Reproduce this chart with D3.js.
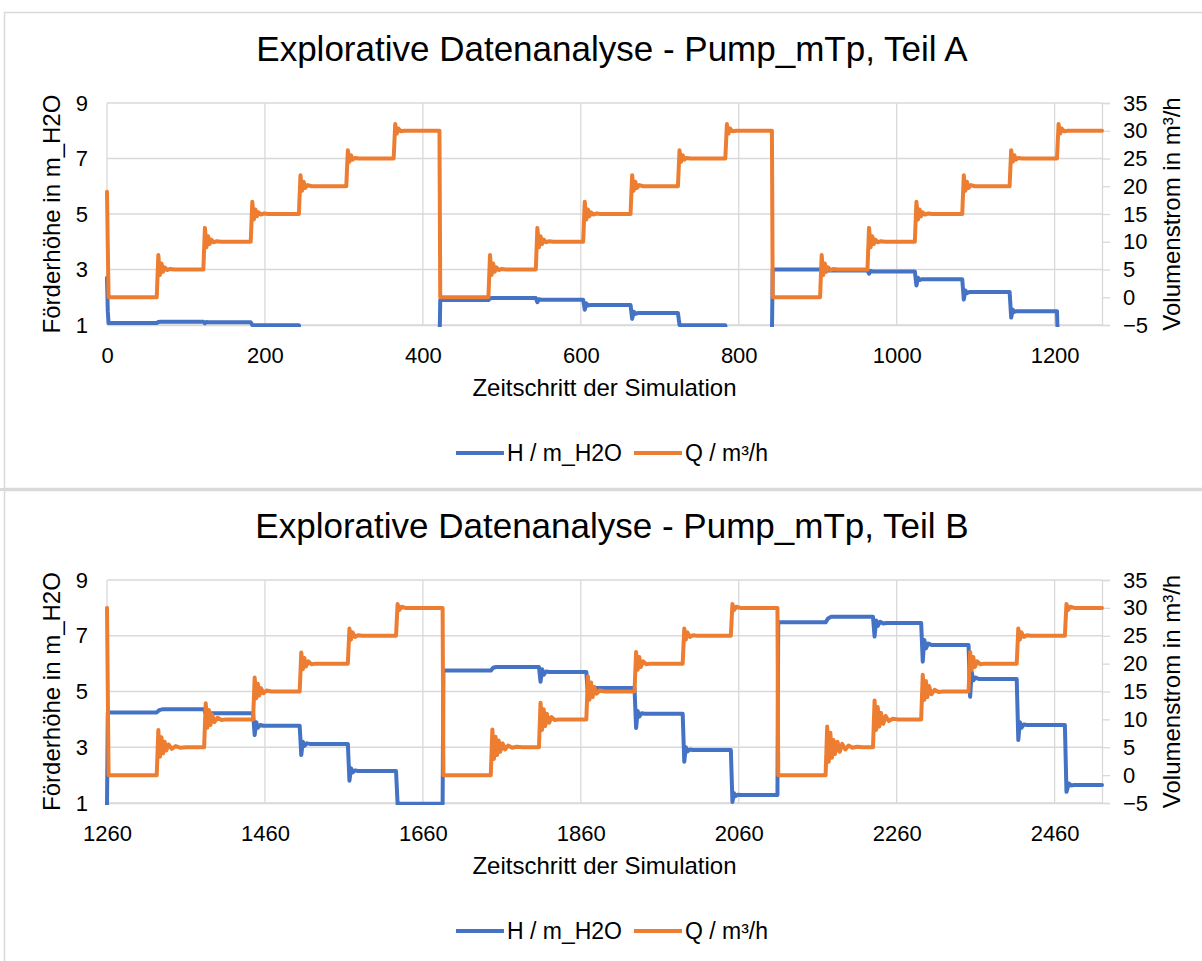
<!DOCTYPE html>
<meta charset="utf-8">
<script src="https://d3js.org/d3.v7.min.js"></script>
<style>
  body { margin: 0; background: #fff; }
  text { font-family: "Liberation Sans", Arial, sans-serif; }
</style>
<div id="chart"></div>
<script>

// titles and labels
const titles = ["Explorative Datenanalyse - Pump_mTp, Teil A", "Explorative Datenanalyse - Pump_mTp, Teil B"];
const xTitle = "Zeitschritt der Simulation";
const yLeftTitle = "Förderhöhe in m_H2O";
const yRightTitle = "Volumenstrom in m³/h";
const seriesNames = ["H / m_H2O", "Q / m³/h"];

// axis ticks
const xTicksA = [0, 200, 400, 600, 800, 1000, 1200];
const xTicksB = [1260, 1460, 1660, 1860, 2060, 2260, 2460];
const yLeftTicks = [1, 3, 5, 7, 9];
const yRightTicks = [-5, 0, 5, 10, 15, 20, 25, 30, 35];

// Teil A: [time step, value]
const hA = [
  [0,2.7],[1,1.5],[2,1.07],
  [63,1.07],[65,1.11],[68,1.12],
  [122,1.12],[124,1.06],[126,1.11],[129,1.1],
  [182,1.1],[184,1.0],[187,0.99],
  [243,0.99],[244,0.7],
  [303,0.7],[304,0.45],
  [363,0.45],[364,0.2],
  [421,0.2],[422,1.9],
  [483,1.9],[485,1.96],[488,1.97],
  [543,1.97],[545,1.82],[547,1.93],[550,1.91],
  [603,1.91],[605,1.55],[607,1.78],[609,1.7],[612,1.72],
  [663,1.72],[665,1.22],[667,1.48],[669,1.4],[672,1.43],
  [723,1.43],[725,1.0],[728,0.99],
  [783,0.99],[784,0.6],
  [842,0.6],[843,3.0],
  [903,3.0],[905,2.95],[908,2.96],
  [963,2.96],[965,2.85],[967,2.95],[970,2.93],
  [1023,2.93],[1025,2.42],[1027,2.7],[1029,2.62],[1032,2.65],
  [1083,2.65],[1085,1.92],[1087,2.24],[1089,2.15],[1092,2.19],
  [1143,2.19],[1145,1.27],[1147,1.55],[1149,1.47],[1152,1.5],
  [1203,1.5],[1204,0.5],
  [1260,0.5]
];
const qA = [
  [0,19],[1,9],[2,0],
  [63,0],[65,7.6],[67,4.0],[69,6.1],[71,4.6],[73,5.4],[76,4.9],[80,5.1],[85,5],
  [122,5],[124,12.5],[126,9.0],[128,11.0],[130,9.6],[132,10.4],[135,9.9],[139,10.1],[144,10],
  [182,10],[184,17.2],[186,14.0],[188,15.8],[190,14.6],[192,15.3],[195,14.9],[199,15.1],[204,15],
  [243,15],[245,22.0],[247,19.2],[249,20.8],[251,19.7],[254,20.2],[259,20],
  [303,20],[305,26.5],[307,24.4],[309,25.6],[311,24.8],[314,25.1],[319,25],
  [363,25],[365,31.2],[367,29.5],[369,30.4],[372,29.9],[377,30],
  [421,30],[422,0],
  [483,0],[485,7.6],[487,4.0],[489,6.1],[491,4.6],[493,5.4],[496,4.9],[500,5.1],[505,5],
  [543,5],[545,12.5],[547,9.0],[549,11.0],[551,9.6],[553,10.4],[556,9.9],[560,10.1],[565,10],
  [603,10],[605,17.2],[607,14.0],[609,15.8],[611,14.6],[613,15.3],[616,14.9],[620,15.1],[625,15],
  [663,15],[665,22.0],[667,19.2],[669,20.8],[671,19.7],[674,20.2],[679,20],
  [723,20],[725,26.5],[727,24.4],[729,25.6],[731,24.8],[734,25.1],[739,25],
  [783,25],[785,31.2],[787,29.5],[789,30.4],[792,29.9],[797,30],
  [842,30],[843,0],
  [903,0],[905,7.6],[907,4.0],[909,6.1],[911,4.6],[913,5.4],[916,4.9],[920,5.1],[925,5],
  [963,5],[965,12.5],[967,9.0],[969,11.0],[971,9.6],[973,10.4],[976,9.9],[980,10.1],[985,10],
  [1023,10],[1025,17.2],[1027,14.0],[1029,15.8],[1031,14.6],[1033,15.3],[1036,14.9],[1040,15.1],[1045,15],
  [1083,15],[1085,22.0],[1087,19.2],[1089,20.8],[1091,19.7],[1094,20.2],[1099,20],
  [1143,20],[1145,26.5],[1147,24.4],[1149,25.6],[1151,24.8],[1154,25.1],[1159,25],
  [1203,25],[1205,31.2],[1207,29.5],[1209,30.4],[1212,29.9],[1217,30],
  [1260,30]
];

// Teil B: [time step, value]
const hB = [
  [1260,0.9],[1261,4.25],
  [1323,4.25],[1326,4.33],[1330,4.36],
  [1383,4.36],[1385,4.2],[1387,4.26],[1390,4.22],
  [1445,4.22],[1447,3.44],[1449,3.9],[1451,3.7],[1454,3.8],[1458,3.77],
  [1504,3.77],[1506,2.72],[1508,3.2],[1510,3.05],[1513,3.14],[1517,3.12],
  [1565,3.12],[1567,1.8],[1569,2.25],[1571,2.1],[1574,2.17],[1578,2.15],
  [1626,2.15],[1628,0.96],[1631,0.97],
  [1685,0.97],[1686,5.75],
  [1746,5.75],[1749,5.85],[1753,5.88],
  [1807,5.88],[1809,5.35],[1811,5.8],[1813,5.6],[1816,5.72],[1820,5.7],
  [1867,5.7],[1869,4.9],[1871,5.25],[1873,5.05],[1876,5.15],[1880,5.13],
  [1928,5.13],[1930,3.69],[1932,4.3],[1934,4.1],[1937,4.22],[1941,4.2],
  [1989,4.2],[1991,2.48],[1993,3.0],[1995,2.85],[1998,2.92],[2002,2.9],
  [2050,2.9],[2052,1.04],[2054,1.35],[2056,1.25],[2059,1.3],[2063,1.29],
  [2109,1.29],[2110,7.48],
  [2170,7.48],[2173,7.62],[2177,7.68],
  [2230,7.68],[2232,6.97],[2234,7.55],[2236,7.35],[2239,7.5],[2243,7.44],[2247,7.46],
  [2291,7.46],[2293,6.07],[2295,6.85],[2297,6.55],[2300,6.72],[2304,6.67],
  [2351,6.67],[2353,4.81],[2355,5.7],[2357,5.4],[2360,5.5],[2364,5.45],
  [2412,5.45],[2414,3.26],[2416,3.9],[2418,3.7],[2421,3.82],[2425,3.8],
  [2473,3.8],[2475,1.4],[2478,1.7],[2481,1.63],[2485,1.65],
  [2520,1.65]
];
const qB = [
  [1260,30],[1261,15],[1262,0],
  [1323,0],[1325,8.1],[1327,3.3],[1329,6.8],[1331,3.9],[1333,6.0],[1335,4.4],[1338,5.5],[1342,4.7],[1347,5.2],[1353,4.9],[1360,5],
  [1383,5],[1385,12.9],[1387,8.5],[1389,11.7],[1391,9.0],[1393,10.9],[1396,9.5],[1400,10.3],[1405,9.9],[1411,10],
  [1445,10],[1447,17.5],[1449,13.8],[1451,16.4],[1453,14.3],[1455,15.6],[1458,14.7],[1462,15.2],[1468,15],
  [1504,15],[1506,22.0],[1508,19.0],[1510,21.0],[1512,19.5],[1515,20.4],[1519,19.9],[1524,20],
  [1565,20],[1567,26.3],[1569,24.3],[1571,25.6],[1574,24.8],[1578,25.1],[1583,25],
  [1626,25],[1628,30.7],[1630,29.6],[1633,30.2],[1638,30],
  [1685,30],[1686,0],
  [1746,0],[1748,8.2],[1750,2.9],[1752,6.9],[1754,3.6],[1756,6.2],[1758,4.2],[1761,5.7],[1764,4.6],[1768,5.3],[1773,4.9],[1779,5.1],[1786,5],
  [1807,5],[1809,13.0],[1811,8.1],[1813,11.8],[1815,8.8],[1817,11.0],[1820,9.4],[1823,10.4],[1827,9.9],[1833,10],
  [1867,10],[1869,17.7],[1871,13.5],[1873,16.6],[1875,14.0],[1877,15.8],[1880,14.6],[1884,15.2],[1890,15],
  [1928,15],[1930,22.1],[1932,18.9],[1934,21.2],[1936,19.4],[1939,20.4],[1943,19.9],[1948,20],
  [1989,20],[1991,26.3],[1993,24.3],[1995,25.6],[1998,24.8],[2002,25.1],[2007,25],
  [2050,25],[2052,30.7],[2054,29.6],[2057,30.2],[2062,30],
  [2109,30],[2110,0],
  [2170,0],[2172,8.7],[2174,2.4],[2176,7.6],[2178,3.1],[2180,6.3],[2182,3.8],[2185,6.0],[2188,4.2],[2191,5.6],[2195,4.6],[2199,5.3],[2204,4.9],[2210,5.1],[2217,5],
  [2230,5],[2232,13.4],[2234,8.1],[2236,12.2],[2238,8.7],[2240,11.2],[2243,9.2],[2246,10.6],[2250,9.7],[2255,10.1],[2261,10],
  [2291,10],[2293,18.0],[2295,13.5],[2297,16.9],[2299,14.0],[2301,16.0],[2304,14.5],[2308,15.3],[2313,14.9],[2319,15],
  [2351,15],[2353,22.1],[2355,18.9],[2357,21.2],[2359,19.4],[2362,20.4],[2366,19.9],[2371,20],
  [2412,20],[2414,26.3],[2416,24.3],[2418,25.6],[2421,24.8],[2425,25.1],[2430,25],
  [2473,25],[2475,30.7],[2477,29.6],[2480,30.2],[2485,30],
  [2520,30]
];

const colH = "#4472C4", colQ = "#ED7D31", gridCol = "#d9d9d9";

const svg = d3.select("#chart").append("svg")
  .attr("width", 1202)
  .attr("height", 961);

// panel frames
svg.append("rect").attr("x", 4.5).attr("y", 12.5).attr("width", 1300).attr("height", 476)
  .attr("fill", "none").attr("stroke", gridCol).attr("stroke-width", 1.5);
svg.append("rect").attr("x", 4.5).attr("y", 490.5).attr("width", 1300).attr("height", 500)
  .attr("fill", "none").attr("stroke", gridCol).attr("stroke-width", 1.5);
svg.append("rect").attr("x", 0).attr("y", 488).attr("width", 1202).attr("height", 3).attr("fill", gridCol);

function drawChart(idx, plotTop, plotBottom, title, xTicks, xDomain, hData, qData) {
  const left = 107, right = 1102;
  const g = svg.append("g");

  const x = d3.scaleLinear().domain(xDomain).range([left, right]);
  const yL = d3.scaleLinear().domain([1, 9]).range([plotBottom, plotTop]);
  const yR = d3.scaleLinear().domain([-5, 35]).range([plotBottom, plotTop]);

  // gridlines
  g.selectAll(".hgrid").data(yLeftTicks).join("line")
    .attr("x1", left).attr("x2", right)
    .attr("y1", d => yL(d)).attr("y2", d => yL(d))
    .attr("stroke", gridCol).attr("stroke-width", 1.3);
  g.selectAll(".vgrid").data(xTicks).join("line")
    .attr("x1", d => x(d)).attr("x2", d => x(d))
    .attr("y1", plotTop).attr("y2", plotBottom)
    .attr("stroke", gridCol).attr("stroke-width", 1.3);

  // axes
  const ax = g.append("g")
    .attr("transform", `translate(0, ${plotBottom})`)
    .call(d3.axisBottom(x).tickValues(xTicks).tickSize(0).tickPadding(22).tickFormat(d3.format("d")));
  const al = g.append("g")
    .attr("transform", `translate(${left}, 0)`)
    .call(d3.axisLeft(yL).tickValues(yLeftTicks).tickSize(0).tickPadding(19));
  al.select(".domain").remove();
  const ar = g.append("g")
    .attr("transform", `translate(${right}, 0)`)
    .call(d3.axisRight(yR).tickValues(yRightTicks).tickSize(8).tickPadding(13));
  [ax, al, ar].forEach(a => {
    a.selectAll("text").style("font-size", "22px").attr("fill", "#000")
      .style("font-family", '"Liberation Sans", Arial, sans-serif');
    a.selectAll(".domain").attr("stroke", gridCol).attr("stroke-width", 1.3);
    a.selectAll(".tick line").attr("stroke", gridCol).attr("stroke-width", 1.3);
  });

  // clip lines to the plot area (Excel hides values below the axis minimum)
  const clipId = "clip" + idx;
  g.append("clipPath").attr("id", clipId).append("rect")
    .attr("x", left - 3).attr("y", plotTop - 3)
    .attr("width", right - left + 6).attr("height", plotBottom - plotTop + 5);

  const lineH = d3.line().x(d => x(d[0])).y(d => yL(d[1]));
  const lineQ = d3.line().x(d => x(d[0])).y(d => yR(d[1]));
  const lines = g.append("g").attr("clip-path", `url(#${clipId})`);
  lines.append("path").datum(hData).attr("d", lineH)
    .attr("fill", "none").attr("stroke", colH).attr("stroke-width", 4)
    .attr("stroke-linejoin", "round").attr("stroke-linecap", "round");
  lines.append("path").datum(qData).attr("d", lineQ)
    .attr("fill", "none").attr("stroke", colQ).attr("stroke-width", 4)
    .attr("stroke-linejoin", "round").attr("stroke-linecap", "round");

  // title
  g.append("text").attr("x", 612).attr("y", plotTop - 42)
    .attr("text-anchor", "middle").style("font-size", "35px").text(title);

  // axis titles
  g.append("text").attr("x", (left + right) / 2).attr("y", plotBottom + 71)
    .attr("text-anchor", "middle").style("font-size", "24px").text(xTitle);
  const midY = (plotTop + plotBottom) / 2;
  g.append("text").attr("transform", `translate(60, ${midY}) rotate(-90)`)
    .attr("text-anchor", "middle").style("font-size", "24px").text(yLeftTitle);
  g.append("text").attr("transform", `translate(1180, ${midY}) rotate(-90)`)
    .attr("text-anchor", "middle").style("font-size", "24px").text(yRightTitle);

  // legend
  const leg = g.append("g");
  let cx = 0;
  [colH, colQ].forEach((c, i) => {
    leg.append("line").attr("x1", cx).attr("x2", cx + 48).attr("y1", 0).attr("y2", 0)
      .attr("stroke", c).attr("stroke-width", 4);
    const t = leg.append("text").attr("x", cx + 51).attr("y", 8)
      .style("font-size", "23px").text(seriesNames[i]);
    cx += 51 + t.node().getComputedTextLength() + 12;
  });
  const legW = cx - 12;
  leg.attr("transform", `translate(${612 - legW / 2}, ${plotBottom + 128})`);
}

drawChart(0, 103, 325, titles[0], xTicksA, [0, 1260], hA, qA);
drawChart(1, 580, 803, titles[1], xTicksB, [1260, 2520], hB, qB);

</script>
